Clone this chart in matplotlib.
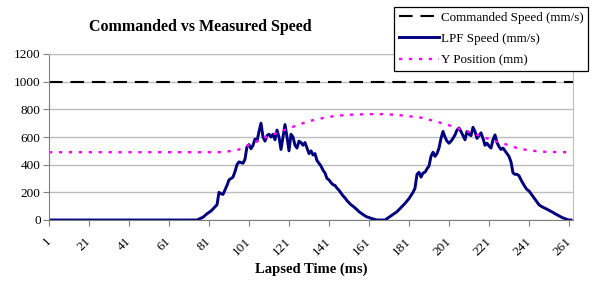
import numpy as np
import matplotlib
matplotlib.use("Agg")
import matplotlib.pyplot as plt
from matplotlib.transforms import ScaledTranslation

plt.rcParams["font.family"] = ["Liberation Serif", "DejaVu Serif"]

# commanded speed (flat)
cmd_t = [1, 263]
cmd_v = [1000, 1000]

# LPF speed
speed_t = [1, 75, 78, 80, 82, 84, 85, 86, 87, 88, 90, 91, 92, 93, 94, 95, 96, 97, 98, 99,
           100, 101, 102, 103, 104, 105, 106, 107, 108, 109, 110, 111, 112, 113, 114, 115,
           116, 117, 118, 119, 120, 121, 122, 123, 124, 125, 126, 127, 128, 129, 130, 131,
           132, 133, 134, 135, 136, 137, 138, 139, 140, 141, 142, 143, 144, 145, 146, 147,
           148, 149, 150, 151, 152, 153, 154, 155, 156, 157, 158, 159, 160, 161, 162, 163,
           164, 165, 169, 171, 173, 175, 177, 179, 181, 183, 184, 185, 186, 187, 188, 189,
           190, 191, 192, 193, 194, 195, 196, 197, 198, 199, 200, 201, 202, 203, 204, 205,
           206, 207, 208, 209, 210, 211, 212, 213, 214, 215, 216, 217, 218, 219, 220, 221,
           222, 223, 224, 225, 226, 227, 228, 229, 230, 231, 232, 233, 234, 235, 236, 237,
           238, 239, 240, 241, 242, 243, 244, 245, 246, 247, 248, 249, 250, 251, 252, 253,
           254, 255, 256, 257, 258, 259, 260, 261, 262]
speed_v = [0, 0, 20, 45, 65, 95, 110, 200, 190, 185, 250, 290, 300, 310, 350, 400, 420, 415, 410, 440,
           530, 545, 515, 540, 585, 570, 640, 700, 600, 570, 610, 620, 600, 620, 580, 650,
           600, 510, 600, 690, 600, 500, 620, 600, 540, 520, 570, 560, 540, 560, 520, 480,
           500, 470, 480, 430, 410, 390, 360, 340, 300, 290, 270, 255, 250, 230, 215, 195,
           175, 160, 140, 125, 110, 100, 88, 75, 60, 50, 40, 30, 22, 18, 12, 8,
           4, 0, 0, 20, 40, 60, 90, 120, 155, 200, 230, 330, 345, 310, 340, 345,
           370, 390, 460, 490, 460, 480, 520, 590, 640, 600, 570, 555, 570, 590, 615, 650,
           665, 640, 610, 580, 640, 620, 610, 670, 640, 590, 610, 630, 590, 540, 555, 535,
           520, 580, 615, 560, 530, 510, 520, 500, 480, 460, 420, 340, 330, 330, 320, 290,
           265, 240, 220, 210, 190, 170, 150, 130, 110, 100, 92, 85, 78, 70, 62, 55,
           45, 38, 30, 22, 15, 10, 4, 0, 0]

# Y position
ypos_t = [1, 86, 90, 95, 98, 102, 108, 115, 121, 126, 131, 138, 143, 150, 160, 168, 175,
          181, 187, 193, 200, 206, 213, 220, 225, 231, 236, 243, 250, 262]
ypos_v = [490, 490, 495, 505, 520, 550, 590, 630, 663, 690, 715, 737, 750, 760, 765, 765, 760,
          750, 740, 718, 690, 660, 627, 590, 566, 540, 515, 500, 492, 490]

xticks = list(range(1, 262, 20))
yticks = list(range(0, 1201, 200))

fig = plt.figure(figsize=(5.95, 2.81), dpi=100)
ax = fig.add_axes([49 / 595, 1 - 220 / 281, 524 / 595, 166 / 281])

l1, = ax.plot(cmd_t, cmd_v, color="black", lw=1.5, dashes=(6.5, 3.8))
l2, = ax.plot(speed_t, speed_v, color="#000080", lw=2.1)
l3, = ax.plot(ypos_t, ypos_v, color="#FF00FF", lw=1.7, dashes=(1.4, 2.8))

ax.set_xlim(1, 263)
ax.set_ylim(0, 1200)
ax.set_yticks(yticks)
ax.set_xticks(xticks)
ax.set_xticklabels([str(t) for t in xticks], rotation=45, ha="right",
                   rotation_mode="anchor")
ax.tick_params(axis="both", labelsize=9.5, length=4, color="#808080", pad=2)
ax.tick_params(axis="x", pad=7)
shift = ScaledTranslation(-3 / 72, 0, fig.dpi_scale_trans)
for lab in ax.get_xticklabels():
    lab.set_transform(lab.get_transform() + shift)
ax.grid(axis="y", color="#bdbdbd", lw=1)
ax.set_axisbelow(True)
for s in ["left", "bottom"]:
    ax.spines[s].set_color("#808080")
for s in ["top", "right"]:
    ax.spines[s].set_color("#bdbdbd")

ax.set_xlabel("Lapsed Time (ms)", fontsize=10.5, fontweight="bold", labelpad=3)
fig.text(200 / 595, 1 - 27 / 281, "Commanded vs Measured Speed", fontsize=11.5,
         fontweight="bold", ha="center", va="center")

leg = fig.legend([l1, l2, l3],
                 ["Commanded Speed (mm/s)", "LPF Speed (mm/s)", "Y Position (mm)"],
                 loc="upper right", bbox_to_anchor=(588 / 595, 1 - 7 / 281),
                 borderaxespad=0, fontsize=9.4, handlelength=3.1, handletextpad=0.1,
                 labelspacing=0.7, borderpad=0.35, fancybox=False, framealpha=1)
leg.get_frame().set_edgecolor("black")
leg.get_frame().set_linewidth(0.9)

fig.savefig("out.png", dpi=100)
